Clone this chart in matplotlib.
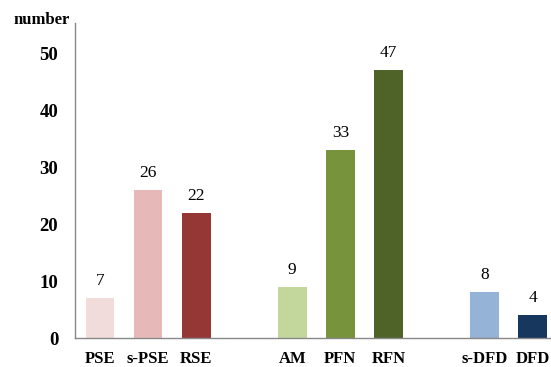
import matplotlib.pyplot as plt

plt.rcParams["font.family"] = ["Liberation Serif", "DejaVu Serif"]

categories = ["PSE", "s-PSE", "RSE", "AM", "PFN", "RFN", "s-DFD", "DFD"]
values = [7, 26, 22, 9, 33, 47, 8, 4]
positions = [0, 1, 2, 4, 5, 6, 8, 9]
colors = ["#f2dcdb", "#e6b9b8", "#953735", "#c3d69b",
          "#77933c", "#4f6228", "#95b3d7", "#17375e"]
yticks = [0, 10, 20, 30, 40, 50]

fig = plt.figure(figsize=(5.51, 3.67), dpi=100)
ax = fig.add_axes([0.136, 0.079, 0.864, 0.858])

bars = ax.bar(positions, values, width=0.6, color=colors)
for x, v in zip(positions, values):
    ax.text(x, v + 1.6, str(v), ha="center", va="bottom", fontsize=12.5)

ax.set_xlim(-0.52, 9.38)
ax.set_ylim(0, 55.3)
ax.set_xticks(positions)
ax.set_xticklabels(categories, fontsize=12, fontweight="bold")
ax.set_yticks(yticks)
ax.set_yticklabels([str(t) for t in yticks], fontsize=13.5, fontweight="bold")
ax.tick_params(length=0, pad=12)
ax.tick_params(axis="x", pad=9)

for side in ["top", "right"]:
    ax.spines[side].set_visible(False)
for side in ["left", "bottom"]:
    ax.spines[side].set_color("#888888")
    ax.spines[side].set_linewidth(1.0)

fig.text(0.024, 0.935, "number", fontsize=12, fontweight="bold")

fig.savefig("out.png", dpi=100)
